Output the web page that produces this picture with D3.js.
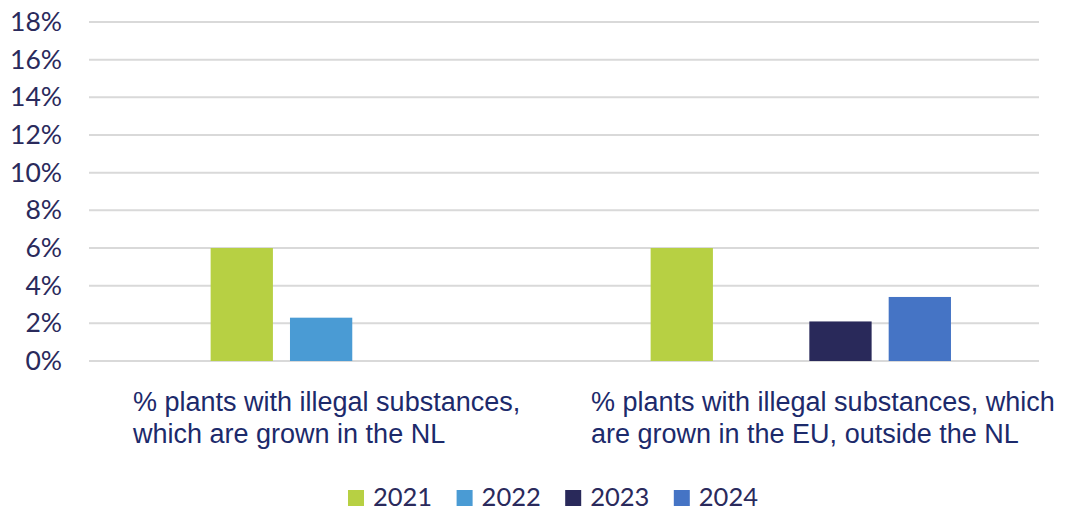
<!DOCTYPE html>
<html>
<head>
<meta charset="utf-8">
<script src="https://cdn.jsdelivr.net/npm/d3@7"></script>
<style>
  body { margin: 0; background: #fff; }
  svg { display: block; }
  .tick text { font-family: Lato, "Open Sans", sans-serif; }
</style>
</head>
<body>
<svg id="chart" width="1072" height="514"></svg>
<script>
"use strict"

// categories and series
const categories = ["NL", "EU"]
const catLabels = [
    ["% plants with illegal substances,", "which are grown in the NL"],
    ["% plants with illegal substances, which", "are grown in the EU, outside the NL"]
]
const years = ["2021", "2022", "2023", "2024"]
const colors = ["#b7d043", "#4a9bd4", "#29295a", "#4574c5"]
const values2021 = [6.0, 6.0]
const values2022 = [2.3, null]
const values2023 = [null, 2.1]
const values2024 = [null, 3.4]
const yTicks = [0, 2, 4, 6, 8, 10, 12, 14, 16, 18]

const series = [values2021, values2022, values2023, values2024]

const svg = d3.select("#chart")
const plot = {left: 89, right: 1039, top: 22, bottom: 361}

const y = d3.scaleLinear().domain([0, 18]).range([plot.bottom, plot.top])
const x0 = d3.scaleBand().domain(categories).range([140.8, 1020.8])
const x1 = d3.scaleBand().domain(years).range([0, x0.bandwidth()])
                .paddingInner(0.215).paddingOuter(0.88)

// gridlines
svg.append("g").attr("class", "grid")
   .selectAll("line").data(yTicks).enter().append("line")
   .attr("x1", plot.left).attr("x2", plot.right)
   .attr("y1", d => y(d)).attr("y2", d => y(d))
   .attr("stroke", "#d9d9d9").attr("stroke-width", 2)

// y axis labels
const yAxis = svg.append("g").attr("transform", `translate(${plot.left - 27},0)`)
   .call(d3.axisLeft(y).tickValues(yTicks).tickFormat(d => d + "%").tickSize(0).tickPadding(0))
yAxis.select(".domain").remove()
yAxis.selectAll("text").attr("fill", "#2a2a5c").style("font-size", "26.5px")

// bars
const rows = []
categories.forEach((c, i) => {
    years.forEach((yr, j) => {
        const v = series[j][i]
        if (v != null) rows.push({cat: c, year: yr, value: v, color: colors[j]})
    })
})

svg.append("g").attr("class", "bars")
   .selectAll("rect").data(rows).enter().append("rect")
   .attr("x", d => x0(d.cat) + x1(d.year))
   .attr("y", d => y(d.value))
   .attr("width", x1.bandwidth())
   .attr("height", d => y(0) - y(d.value))
   .attr("fill", d => d.color)

// category labels (left aligned text boxes)
const labelX = [133, 591]
const labels = svg.append("g").attr("class", "catlabels")
catLabels.forEach((lines, i) => {
    const t = labels.append("text")
        .attr("x", labelX[i]).attr("y", 411)
        .attr("font-family", "Liberation Sans, Arial, sans-serif")
        .attr("font-size", 27).attr("fill", "#1c2a6b")
    lines.forEach((l, k) => {
        t.append("tspan").attr("x", labelX[i]).attr("dy", k == 0 ? 0 : 32).text(l)
    })
})

// legend
const legend = svg.append("g").attr("class", "legend")
   .selectAll("g").data(years).enter().append("g")
   .attr("transform", (d, i) => `translate(${348 + i * 108.6},0)`)
legend.append("rect").attr("x", 0).attr("y", 490).attr("width", 16).attr("height", 16)
   .attr("fill", (d, i) => colors[i])
legend.append("text").attr("x", 25).attr("y", 506)
   .attr("font-family", "Lato, sans-serif").attr("font-size", 25.5).attr("fill", "#2a2a5c")
   .text(d => d)
</script>
</body>
</html>
